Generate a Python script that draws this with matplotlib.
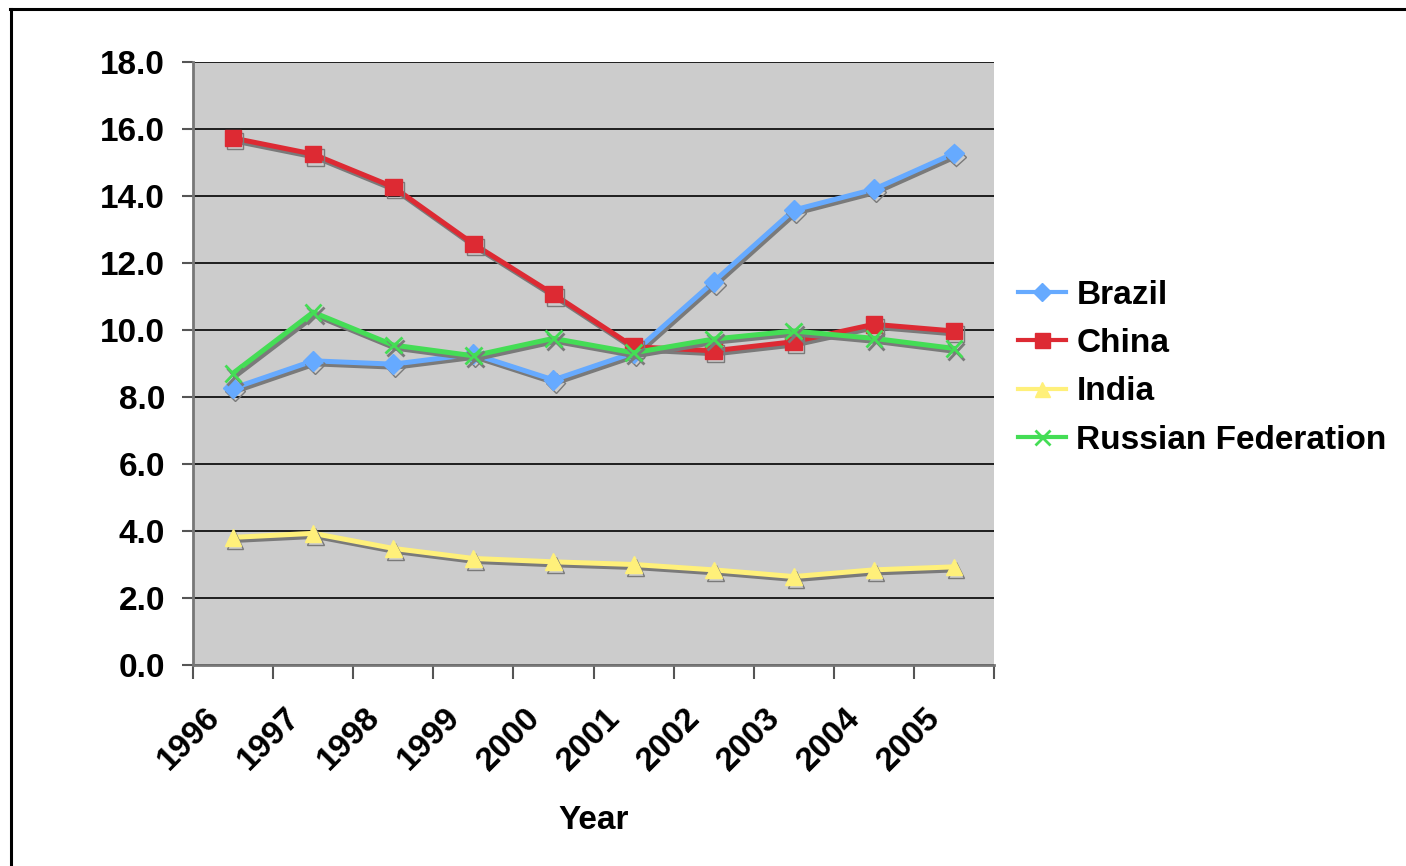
import matplotlib
matplotlib.use("Agg")
import matplotlib.pyplot as plt
import matplotlib.patheffects as pe
from matplotlib.lines import Line2D
from matplotlib.transforms import ScaledTranslation, blended_transform_factory
import numpy as np

years = ["1996", "1997", "1998", "1999", "2000", "2001", "2002", "2003", "2004", "2005"]
brazil = [8.26, 9.08, 8.98, 9.28, 8.51, 9.32, 11.44, 13.58, 14.20, 15.27]
china = [15.73, 15.25, 14.27, 12.57, 11.07, 9.50, 9.38, 9.65, 10.17, 9.97]
india = [3.81, 3.93, 3.48, 3.18, 3.08, 3.00, 2.84, 2.64, 2.84, 2.93]
russia = [8.71, 10.53, 9.55, 9.23, 9.75, 9.32, 9.73, 9.97, 9.75, 9.45]
series_names = ["Brazil", "China", "India", "Russian Federation"]
y_ticks = [0, 2, 4, 6, 8, 10, 12, 14, 16, 18]

plt.rcParams['font.family'] = ['Liberation Sans', 'DejaVu Sans']
plt.rcParams['font.weight'] = 'bold'
FS = 24

fig = plt.figure(figsize=(14.06, 8.66), dpi=100)
fig.patch.set_facecolor('white')
ax = fig.add_axes([193/1406, 1-665/866, 801/1406, 603/866])
ax.set_facecolor('#cccccc')

x = np.arange(len(years))
styles = [
    (brazil, '#66aaff', 'D', 10, 1),
    (china, '#dd2a33', 's', 12, 1),
    (india, '#fff07a', '^', 12, 1),
    (russia, '#44dd55', 'x', 12, 2.0),
]
shadow = [pe.SimpleLineShadow(offset=(1.5, -2.2), shadow_color='#7a7a7a', alpha=1.0, rho=1), pe.Normal()]
handles = []
for (vals, col, mk, ms, mew), name in zip(styles, series_names):
    ax.plot(x, vals, color=col, lw=3.6, marker=mk, ms=ms, mew=mew, mec=col, mfc=col,
            zorder=3, path_effects=shadow, solid_joinstyle='miter')
    handles.append(Line2D([], [], color=col, lw=3.0, marker=mk, ms=ms*0.9, mew=mew, mec=col, mfc=col))

ax.set_xlim(-0.5, len(years) - 0.5)
ax.set_ylim(0, 18)
ax.set_yticks(y_ticks)
ax.set_yticklabels([f"{v:.1f}" for v in y_ticks], fontsize=FS, fontweight='bold')
ax.yaxis.grid(True, color='black', lw=1.2, zorder=1)
ax.set_axisbelow(True)

ax.set_xticks(x)
ax.set_xticklabels([])
ax.tick_params(axis='x', which='major', length=0, pad=0)
ax.set_xticks(np.arange(-0.5, len(years)), minor=True)
ax.tick_params(axis='x', which='minor', length=10, width=1.5, color='#555555', direction='out')
ax.tick_params(axis='y', length=8, width=1.5, color='#555555', pad=12)

trans = blended_transform_factory(ax.transData, ax.transAxes) + \
    ScaledTranslation(-0.29, -0.37, fig.dpi_scale_trans)
for i, yr in enumerate(years):
    ax.text(i, 0, yr, transform=trans, rotation=45, ha='right', va='top',
            rotation_mode='anchor', fontsize=FS, fontweight='bold')

for s in ['top', 'right']:
    ax.spines[s].set_visible(False)
for s in ['left', 'bottom']:
    ax.spines[s].set_color('#777777')
    ax.spines[s].set_linewidth(2)

ax.set_xlabel("Year", fontsize=FS, fontweight='bold')
ax.xaxis.set_label_coords(0.5, -0.233)

fig.legend(handles, series_names, loc='center left', bbox_to_anchor=(1018/1406, 1-367.5/866),
           frameon=False, prop={'weight': 'bold', 'size': FS}, borderpad=0, borderaxespad=0,
           handlelength=1.45, handletextpad=0.3, labelspacing=0.52)

# outer border
fig.add_artist(Line2D([10/1406, 1], [1-9/866, 1-9/866], color='black', lw=2.2, transform=fig.transFigure))
fig.add_artist(Line2D([11/1406, 11/1406], [0, 1-9/866], color='black', lw=2.2, transform=fig.transFigure))

fig.savefig("out.png", dpi=100, facecolor='white')
